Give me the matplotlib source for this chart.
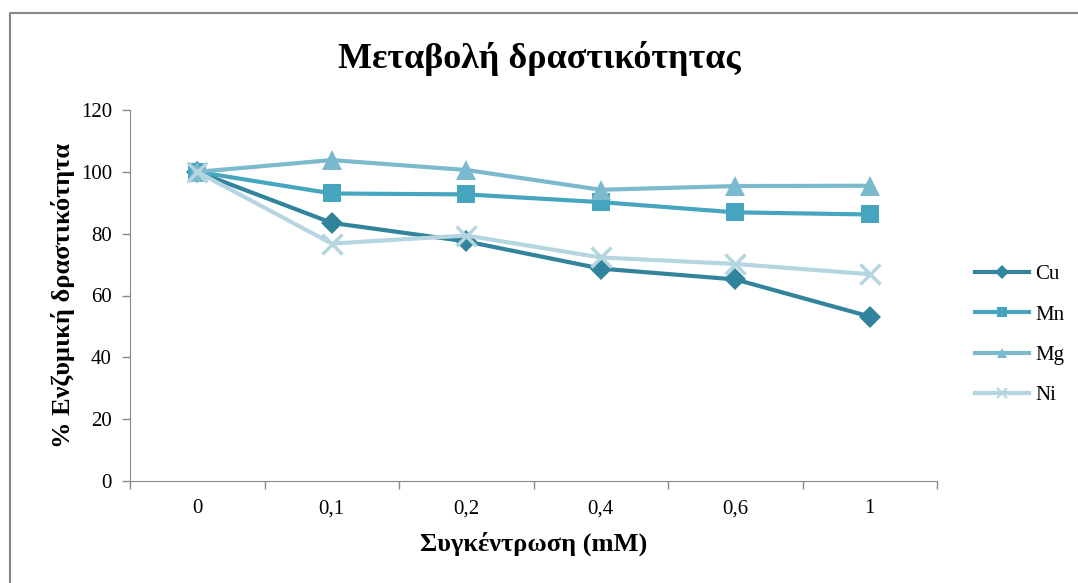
#!/usr/bin/env python
# -*-coding:utf-8-*-

import matplotlib
matplotlib.use("Agg")
import matplotlib.pyplot as plt
from matplotlib.lines import Line2D

# data
categories = ["0", "0,1", "0,2", "0,4", "0,6", "1"]
cu = [100, 83.5, 77.5, 68.7, 65.2, 53.2]
mn = [100, 93.0, 92.7, 90.2, 86.9, 86.2]
mg = [100, 103.8, 100.6, 94.2, 95.4, 95.5]
ni = [100, 76.8, 79.4, 72.3, 70.2, 66.9]

series = [("Cu", cu, "#31849B", "D", 11),
          ("Mn", mn, "#46A5BF", "s", 13),
          ("Mg", mg, "#7AB9CE", "^", 15),
          ("Ni", ni, "#B5D5E0", "x", 14)]

plt.rcParams['font.family'] = ['Liberation Serif', 'DejaVu Serif']

fig = plt.figure(figsize=(10.78, 5.83), dpi=100)
ax = fig.add_axes([130 / 1078, 1 - 481 / 583, (937 - 130) / 1078, (481 - 110) / 583])

x = list(range(len(categories)))
handles = []
for name, vals, col, mk, ms in series:
    ax.plot(x, vals, color=col, lw=3, marker=mk, markersize=ms,
            markeredgewidth=2.5 if mk == "x" else 0, markeredgecolor=col,
            solid_joinstyle="round", clip_on=False)
    handles.append(Line2D([], [], color=col, lw=3, marker=mk,
                          markersize=7, markeredgewidth=1.5 if mk == "x" else 0,
                          markeredgecolor=col))

ax.set_xlim(-0.5, len(categories) - 0.5)
ax.set_ylim(0, 120)
ax.set_yticks(range(0, 121, 20))
ax.set_xticks(x)
ax.set_xticklabels(categories)
ax.set_xticks([i + 0.5 for i in range(-1, len(categories))], minor=True)
ax.tick_params(axis="x", which="major", length=0, pad=13, labelsize=15)
ax.tick_params(axis="x", which="minor", length=6, color="#888888", width=1)
ax.tick_params(axis="y", length=6, color="#888888", width=1, pad=7, labelsize=15)

for s in ["top", "right"]:
    ax.spines[s].set_visible(False)
for s in ["left", "bottom"]:
    ax.spines[s].set_color("#888888")

ax.set_xlabel("Συγκέντρωση (mM)", fontsize=19, fontweight="bold", labelpad=10)
ax.set_ylabel("% Ενζυμική δραστικότητα", fontsize=19, fontweight="bold", labelpad=4)

fig.text(0.5, 1 - 58 / 583, "Μεταβολή δραστικότητας", ha="center", va="center",
         fontsize=26, fontweight="bold")

fig.legend(handles, [s[0] for s in series], loc="center left",
           bbox_to_anchor=(975 / 1078, 1 - 335 / 583), frameon=False,
           borderpad=0, borderaxespad=0,
           fontsize=15, handlelength=2.6, labelspacing=1.0, handletextpad=0.3)

# outer chart border
fig.add_artist(Line2D([10 / 1078, 10 / 1078, 1.0], [0.0, 1 - 13 / 583, 1 - 13 / 583],
                      color="#888888", lw=1.5))

fig.savefig("out.png", dpi=100)
